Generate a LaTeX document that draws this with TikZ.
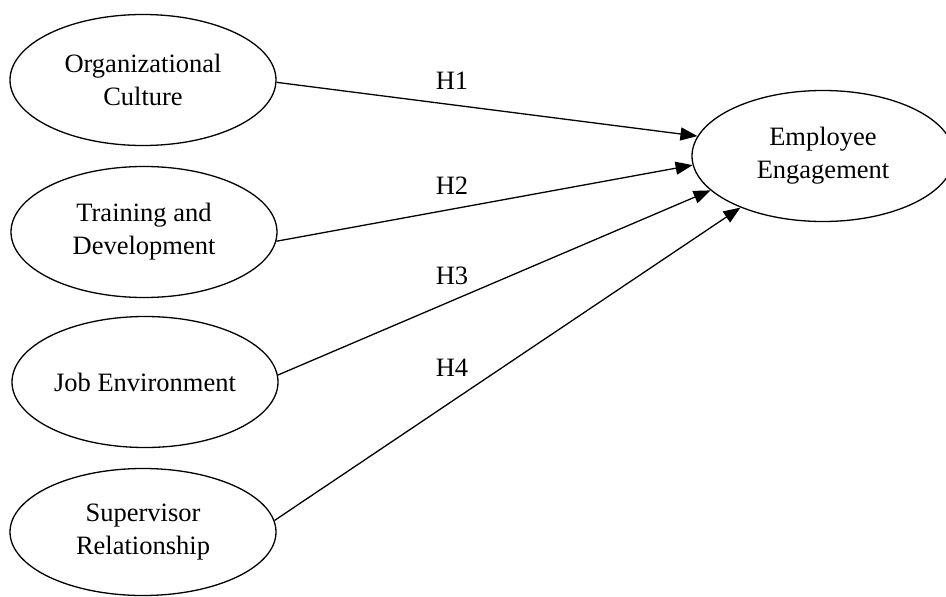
\documentclass[tikz,border=0pt]{standalone}
\usepackage{fontspec}
\setmainfont{Liberation Serif}
\usetikzlibrary{shapes.geometric,arrows.meta}
\begin{document}
\begin{tikzpicture}[x=1pt,y=-1pt,
  construct/.style={draw, line width=1.3pt, ellipse, minimum width=266pt, minimum height=131pt, inner sep=0pt, align=center, font=\fontsize{26.5}{33}\selectfont},
  hyp/.style={font=\fontsize{26.5}{33}\selectfont, inner sep=0pt},
  link/.style={line width=1.3pt, -{Triangle[length=17pt,width=13pt]}}]
\clip (0,0) rectangle (946,597);
\useasboundingbox (0,0) rectangle (946,597);
\node[construct] (oc) at (143,80) {Organizational\\Culture};
\node[construct] (td) at (144,232) {Training and\\Development};
\node[construct] (je) at (145,382) {Job Environment};
\node[construct, minimum height=127pt] (sr) at (143,532) {Supervisor\\Relationship};
\node[construct, minimum width=262pt] (ee) at (823,156) {Employee\\Engagement};
\draw[link] (oc.-1) -- (ee.171.6);
\draw[link] (td.-4) -- (ee.184.4);
\draw[link] (je.3) -- (ee.197);
\draw[link] (sr.5) -- (ee.212);
\node[hyp] (h1) at (452,81) {H1};
\node[hyp] (h2) at (452,186) {H2};
\node[hyp] (h3) at (452,276) {H3};
\node[hyp] (h4) at (452,368) {H4};
\end{tikzpicture}
\end{document}
